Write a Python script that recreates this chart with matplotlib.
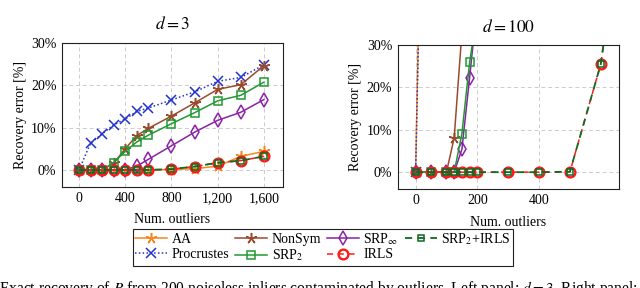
import numpy as np
import matplotlib.pyplot as plt
from matplotlib.ticker import FuncFormatter, FixedLocator

plt.rcParams['font.family'] = ['Liberation Serif', 'DejaVu Serif']
plt.rcParams['mathtext.fontset'] = 'stix'
plt.rcParams['font.size'] = 10

# ---- left panel data (d = 3) ----
x_left = [0, 100, 200, 300, 400, 500, 600, 800, 1000, 1200, 1400, 1600]
aa_left = [0, 0, 0, 0, 0, 0, 0, 0.1, 0.3, 0.9, 3.2, 4.4]
procrustes_left = [0, 6.3, 8.5, 10.6, 12.0, 13.8, 14.6, 16.5, 18.4, 20.9, 21.8, 24.8]
nonsym_left = [0, 0, 0, 1.6, 5.0, 8.1, 9.8, 12.7, 15.8, 19.0, 20.1, 24.6]
srp2_left = [0, 0, 0, 1.7, 4.4, 6.6, 8.2, 10.9, 13.5, 16.3, 17.6, 20.7]
srpinf_left = [0, 0, 0, 0, 0, 0.9, 2.5, 5.7, 8.9, 11.7, 13.6, 16.6]
irls_left = [0, 0, 0, 0, 0, 0, 0, 0.2, 0.8, 1.7, 2.2, 3.2]
srp2irls_left = [0, 0, 0, 0, 0, 0, 0, 0.2, 0.8, 1.7, 2.2, 3.2]

# ---- right panel data (d = 100) ----
x_aa_right = [0, 50]
aa_right = [0, 185]
x_proc_right = [0, 50]
procrustes_right = [0, 170]
x_nonsym_right = [0, 50, 100, 125, 150]
nonsym_right = [0, 0, 0, 8.1, 33]
x_srp_right = [0, 50, 100, 125, 150, 175, 200]
srp2_right = [0, 0, 0, 0, 9.1, 25.9, 38]
srpinf_right = [0, 0, 0, 0, 5.4, 22.3, 40]
x_irls_right = [0, 50, 100, 125, 150, 175, 200, 300, 400, 500, 600, 700]
irls_right = [0, 0, 0, 0, 0, 0, 0, 0, 0, 0.1, 25.5, 78]
srp2irls_right = [0, 0, 0, 0, 0, 0, 0, 0, 0, 0.1, 25.5, 78]

C_AA = '#f7861c'
C_PROC = '#2233cc'
C_NONSYM = '#9a4b2f'
C_SRPINF = '#8a22a6'
C_SRP2 = '#1f9a32'
C_SRP2IRLS = '#0e6b22'
C_IRLS = '#ff1a1a'

STAR = (5, 2, 0)

fig = plt.figure(figsize=(6.4, 2.88), dpi=100)
ax1 = fig.add_axes([62 / 640, 1 - 186.5 / 288, (283 - 62) / 640, (186.5 - 42.7) / 288])
ax2 = fig.add_axes([397.7 / 640, 1 - 188.7 / 288, (619 - 397.7) / 640, (188.7 - 45) / 288])


def draw(ax, sets):
    (xa, ya), (xp, yp), (xn, yn), (xs, ys2, ysi), (xi, yi, ysir) = sets
    ax.plot(xa, ya, color=C_AA, lw=1.1, marker=STAR, ms=8, mew=1.1, label='AA')
    ax.plot(xp, yp, color=C_PROC, lw=1.1, ls=(0, (1, 1.5)), marker='x', ms=7.5, mew=1.1,
            label='Procrustes')
    ax.plot(xn, yn, color=C_NONSYM, lw=1.1, marker=STAR, ms=8, mew=1.1, label='NonSym')
    ax.plot(xs, ysi, color=C_SRPINF, lw=1.1, marker='d', ms=7.5, mew=1.1, mfc='none',
            label=r'SRP$_{\infty}$')
    ax.plot(xs, ys2, color=C_SRP2, lw=1.1, marker='s', ms=5.5, mew=1.1, mfc='none',
            label=r'SRP$_2$')
    ax.plot(xi, yi, color=C_IRLS, lw=1.1, ls=(0, (4, 3)), marker='o', ms=7, mew=1.7,
            mfc='none', label='IRLS')
    ax.plot(xi, ysir, color=C_SRP2IRLS, lw=1.3, ls=(0, (4, 3)), marker='s', ms=5,
            mew=1.1, mfc='none', label=r'SRP$_2$+IRLS')


draw(ax1, [(x_left, aa_left), (x_left, procrustes_left), (x_left, nonsym_left),
           (x_left, srp2_left, srpinf_left), (x_left, irls_left, srp2irls_left)])
draw(ax2, [(x_aa_right, aa_right), (x_proc_right, procrustes_right),
           (x_nonsym_right, nonsym_right), (x_srp_right, srp2_right, srpinf_right),
           (x_irls_right, irls_right, srp2irls_right)])

pct = FuncFormatter(lambda v, p: f"{v:.0f}%")
for ax in (ax1, ax2):
    ax.set_ylim(-3.9, 30)
    ax.yaxis.set_major_locator(FixedLocator([0, 10, 20, 30]))
    ax.yaxis.set_major_formatter(pct)
    ax.grid(True, color='#cccccc', ls=(0, (4, 3)), lw=0.7)
    ax.set_axisbelow(True)
    ax.tick_params(length=0, labelsize=10, pad=4)
    for s in ax.spines.values():
        s.set_linewidth(0.8)
        s.set_color('#222222')
    ax.set_xlabel('Num. outliers', fontsize=10, labelpad=6)
    ax.set_ylabel('Recovery error [%]', fontsize=10, labelpad=3)

ax1.set_xlim(-147, 1765)
ax1.xaxis.set_major_locator(FixedLocator([0, 400, 800, 1200, 1600]))
ax1.xaxis.set_major_formatter(FuncFormatter(lambda v, p: f"{int(v):,}"))
ax1.set_title('$d = 3$', fontsize=12.5, pad=10)

ax2.set_xlim(-58, 659)
ax2.xaxis.set_major_locator(FixedLocator([0, 200, 400]))
ax2.set_title('$d = 100$', fontsize=12.5, pad=9)

h, l = ax1.get_legend_handles_labels()
order = [0, 1, 2, 4, 3, 5, 6]
leg = fig.legend([h[i] for i in order], [l[i] for i in order], ncol=4, loc='center',
                 bbox_to_anchor=(0.5045, 0.141), fontsize=10, frameon=True,
                 fancybox=False, edgecolor='#222222', framealpha=1, handlelength=2.3,
                 columnspacing=0.45, handletextpad=0.3, labelspacing=0.1,
                 borderpad=0.2)
leg.get_frame().set_linewidth(0.8)

fig.text(-0.002, 1 - 293 / 288,
         'Exact recovery of $R$ from 200 noiseless inliers contaminated by outliers. '
         'Left panel: $d = 3$. Right panel:', ha='left', va='baseline', fontsize=11.2)

fig.savefig('out.png', dpi=100)
